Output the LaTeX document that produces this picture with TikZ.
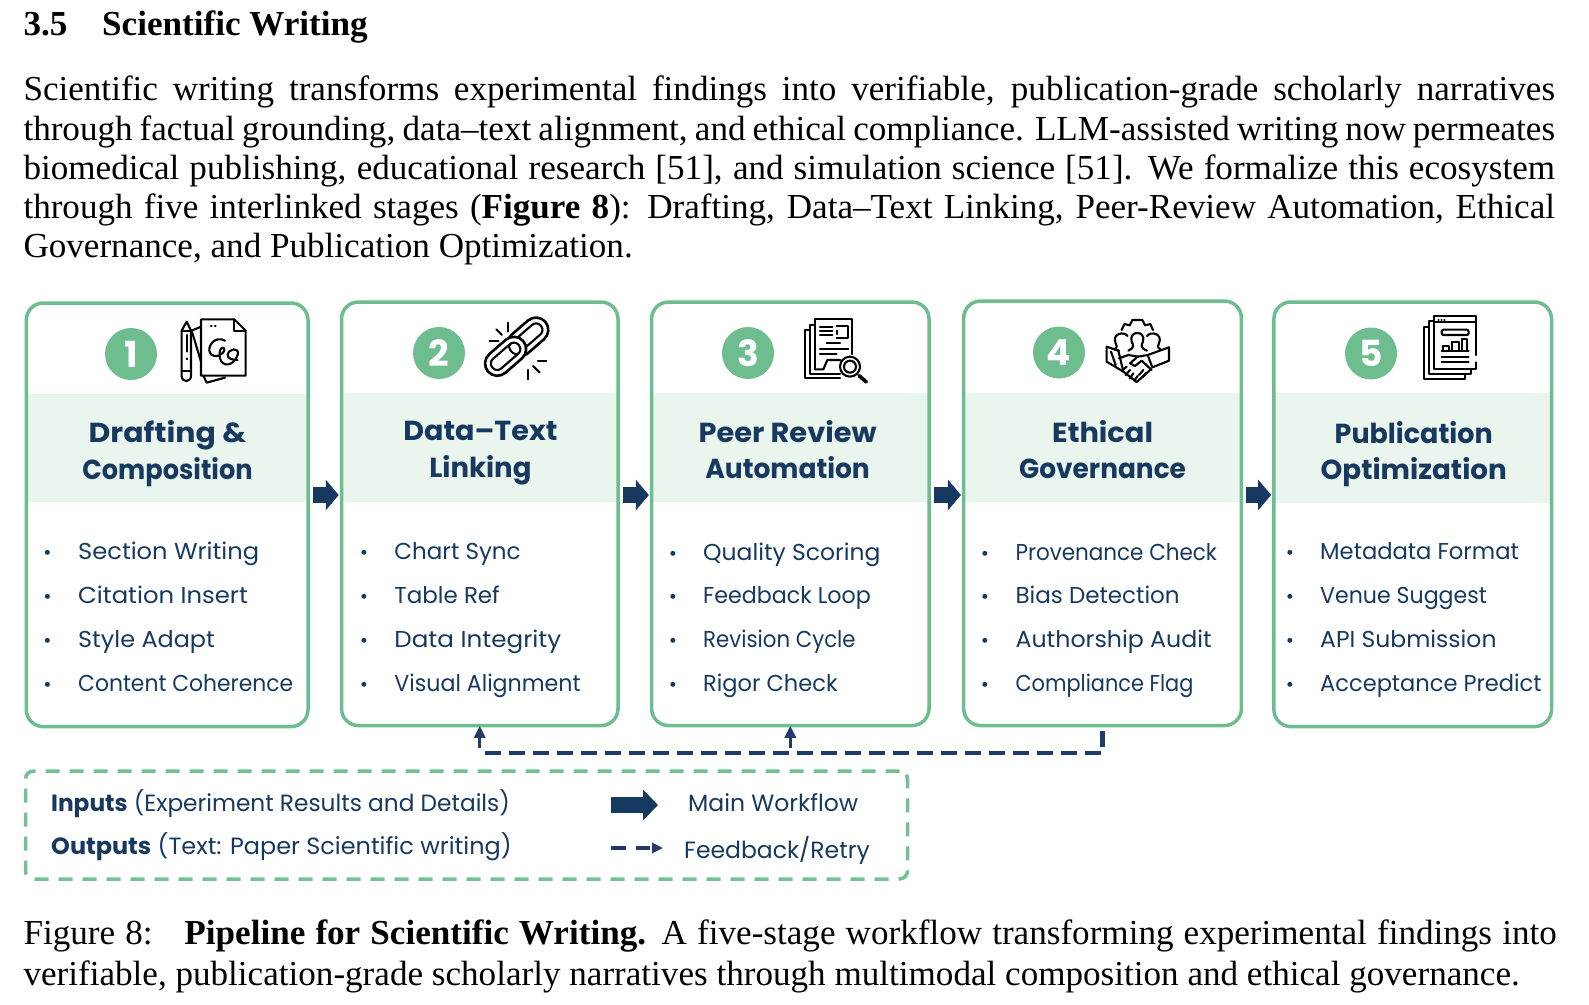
\documentclass[tikz,border=0pt]{standalone}
\usepackage{fontspec}
\usepackage{graphicx}
\usetikzlibrary{arrows.meta,calc}
\setmainfont{Liberation Serif}
\newfontfamily\cf{Poppins}
\definecolor{grn}{HTML}{6DBD8F}
\definecolor{lgrn}{HTML}{EAF5EE}
\definecolor{navy}{HTML}{17395F}
\definecolor{fbnavy}{HTML}{1F3A6B}
\tikzset{
  x=1pt,y=-1pt,
  stagebox/.style={draw=grn,line width=3.5pt,rounded corners=17pt,inner sep=0pt,minimum width=#1},
  band/.style={fill=lgrn,draw=none},
  numdot/.style={circle,fill=grn,text=white,inner sep=0pt,minimum size=52pt,font=\cf\bfseries\fontsize{36}{36}\selectfont},
  title/.style={align=center,text=navy,inner sep=0pt,font=\cf\bfseries\fontsize{27.5}{36.5}\selectfont},
  item/.style={anchor=base west,text=navy,inner sep=0pt,font=\cf\fontsize{23}{26}\selectfont},
  dotitem/.style={anchor=base,text=navy,inner sep=0pt,font=\cf\fontsize{20}{20}\selectfont},
  flow/.style={draw=navy,line width=16pt,-{Triangle[length=13pt,width=30pt]}},
  ico/.style={draw=black,line width=2.1pt,line join=round,line cap=round,fill=none},
  fbline/.style={draw=fbnavy,line width=4.2pt,dash pattern=on 16pt off 8pt},
  fbhead/.style={draw=fbnavy,line width=3.3pt,-{Triangle[length=12pt,width=11pt]}},
  legendbox/.style={draw=grn!95!white,line width=3.5pt,dash pattern=on 14pt off 10pt,rounded corners=8pt,inner sep=0pt},
  ltext/.style={anchor=base west,text=navy,inner sep=0pt,font=\cf\fontsize{23.5}{26}\selectfont},
  para/.style={anchor=north west,inner sep=0pt,text width=1531.5pt,font=\fontsize{35.1}{39.3}\selectfont,align=justify},
  icoscope/.style={shift={#1},scale=0.3333},
}
\newcommand{\stage}[7]{% id, left, right, top, bottom, bandtop, bandbot
  \fill[band] (#2,#6) rectangle (#3,#7);
  \node[stagebox=#3pt-#2pt,minimum height=#5pt-#4pt] (b#1) at ({(#2+#3)/2},{(#4+#5)/2}) {};
}
\newcommand{\ttl}[4]{\strut\scalebox{#3}[1]{#1}\\\strut\scalebox{#4}[1]{#2}}
\begin{document}
\begin{tikzpicture}
\useasboundingbox (0,0) rectangle (1589,1004);
\fill[white] (0,0) rectangle (1589,1004);

% heading and paragraph
\node[anchor=base west,inner sep=0pt,font=\bfseries\fontsize{35.1}{40}\selectfont] (hnum) at (23.3,35) {3.5};
\node[anchor=base west,inner sep=0pt,font=\bfseries\fontsize{35.1}{40}\selectfont] (htitle) at (102,35) {Scientific Writing};
\node[para] (body) at (23.3,73) {\strut Scientific writing transforms experimental findings into verifiable, publication-grade scholarly narratives\linebreak
through factual grounding, data–text alignment, and ethical compliance. LLM-assisted writing now permeates\linebreak
biomedical publishing, educational research [51], and simulation science [51]. We formalize this ecosystem\linebreak
through five interlinked stages (\textbf{Figure 8}): Drafting, Data–Text Linking, Peer-Review Automation, Ethical\linebreak
Governance, and Publication Optimization.\par};

% stages
\stage{1}{26.3}{308}{303}{726.6}{394}{502}
\stage{2}{341.5}{618}{302}{725.6}{393}{502}
\stage{3}{651.6}{929}{302}{725.6}{393}{502}
\stage{4}{963.7}{1241.4}{301}{725.6}{393}{502}
\stage{5}{1273.9}{1551.5}{302}{726.6}{393}{503}

\node[numdot] (n1) at (131,354) {1};
\node[numdot] (n2) at (439,353) {2};
\node[numdot] (n3) at (748,353) {3};
\node[numdot] (n4) at (1059,352.5) {4};
\node[numdot] (n5) at (1371,353.5) {5};

\node[title] (t1) at (167.5,453.5) {\ttl{Drafting \&}{Composition}{1.09}{0.933}};
\node[title] (t2) at (480.4,451.5) {\ttl{Data–Text}{Linking}{1.04}{1.0}};
\node[title] (t3) at (787.6,453) {\ttl{Peer Review}{Automation}{1.05}{0.964}};
\node[title] (t4) at (1102.6,453) {\ttl{Ethical}{Governance}{1.05}{0.96}};
\node[title] (t5) at (1413.7,454) {\ttl{Publication}{Optimization}{0.98}{1.01}};

% lists
\foreach \t/\s [count=\i] in {Section Writing/1.05,Citation Insert/1.057,Style Adapt/1.04,Content Coherence/0.95}{
  \node[dotitem] (d1-\i) at (47.6,{559.5+43.9*(\i-1)}) {•};
  \node[item] (i1-\i) at (78,{559.5+43.9*(\i-1)}) {\scalebox{\s}[1]{\t}};}
\foreach \t/\s [count=\i] in {Chart Sync/1.0,Table Ref/1.0,Data Integrity/1.07,Visual Alignment/0.963}{
  \node[dotitem] (d2-\i) at (364,{559.5+43.9*(\i-1)}) {•};
  \node[item] (i2-\i) at (394.2,{559.5+43.9*(\i-1)}) {\scalebox{\s}[1]{\t}};}
\foreach \t/\s [count=\i] in {Quality Scoring/1.02,Feedback Loop/0.965,Revision Cycle/0.926,Rigor Check/0.98}{
  \node[dotitem] (d3-\i) at (673,{560+43.9*(\i-1)}) {•};
  \node[item] (i3-\i) at (703,{560+43.9*(\i-1)}) {\scalebox{\s}[1]{\t}};}
\foreach \t/\s [count=\i] in {Provenance Check/0.934,Bias Detection/1.0,Authorship Audit/1.03,Compliance Flag/0.907}{
  \node[dotitem] (d4-\i) at (985,{560+43.9*(\i-1)}) {•};
  \node[item] (i4-\i) at (1015.4,{560+43.9*(\i-1)}) {\scalebox{\s}[1]{\t}};}
\foreach \t/\s [count=\i] in {Metadata Format/0.985,Venue Suggest/0.96,API Submission/1.02,Acceptance Predict/0.98}{
  \node[dotitem] (d5-\i) at (1290,{559.5+43.9*(\i-1)}) {•};
  \node[item] (i5-\i) at (1320,{559.5+43.9*(\i-1)}) {\scalebox{\s}[1]{\t}};}

% main flow arrows
\coordinate (fy) at (0,495);
\foreach \a/\b in {1/2,2/3,3/4,4/5}{
  \draw[flow,shorten <=3pt,shorten >=1pt] (b\a.east |- fy) -- (b\b.west |- fy);}

% feedback
\coordinate (lo) at (0,753.3);
\draw[fbline] ([xshift=5pt]b2.south |- lo) -- (b4.south |- lo) -- ([yshift=-3.4pt]b4.south);
\draw[fbhead] ($(b2.south |- lo)+(0,-5)$) -- ([yshift=1.6pt]b2.south);
\draw[fbhead] ($(b3.south |- lo)+(0,-5)$) -- ([yshift=1.6pt]b3.south);

% legend
\node[legendbox,minimum width=882pt,minimum height=108pt] (leg) at (466.5,825) {};
\node[ltext] (inp) at (51,811) {\scalebox{0.99}[1]{\textbf{Inputs} (Experiment Results and Details)}};
\node[ltext] (outp) at (51,854) {\scalebox{1.018}[1]{\textbf{Outputs} (Text: Paper Scientific writing)}};
\coordinate (m1) at (611,805); \coordinate (m2) at (658,805);
\draw[flow,-{Triangle[length=15pt,width=30pt]}] (m1) -- (m2);
\node[ltext] (mw) at (688,811.5) {Main Workflow};
\coordinate (r1) at (611,848); \coordinate (r2) at (663,848);
\draw[draw=fbnavy,line width=3.4pt,dash pattern=on 14.5pt off 10pt,-{Triangle[length=11pt,width=10pt]}] (r1) -- (r2);
\node[ltext] (fr) at (684,858) {Feedback/Retry};

% caption
\node[para,text width=1533.3pt,font=\fontsize{35.1}{40.5}\selectfont] (cap) at (23.3,916) {\strut Figure 8:\hspace{0.5em} \textbf{Pipeline for Scientific Writing.} A five-stage workflow transforming experimental findings into\linebreak
verifiable, publication-grade scholarly narratives through multimodal composition and ethical governance.\par};

% icon 1: pencil and pages
\begin{scope}[icoscope={(175,310)}]
  \draw[ico] (35,35) -- (20,62) -- (20,198) .. controls (20,218) and (48,218) .. (48,198) -- (48,62) -- cycle;
  \draw[ico] (20,62) -- (48,62);
  \draw[ico] (20,182) -- (48,182);
  \draw[ico] (35,75) -- (35,125);
  \draw[ico] (35,145) -- (35,148);
  \draw[ico] (50,62) -- (78,50);
  \draw[ico] (50,62) -- (78,155);
  \draw[ico] (85,197) -- (95,218) -- (150,203);
  \draw[ico] (78,28) -- (178,28) -- (212,62) -- (212,197) -- (78,197) -- cycle;
  \draw[ico] (178,28) -- (178,62) -- (212,62);
  \draw[ico] (108,47) -- (110,47);
  \draw[ico] (120,47) -- (122,47);
  \draw[ico] (150,92) .. controls (120,75) and (95,110) .. (105,128) .. controls (115,148) and (148,135) .. (148,118) .. controls (148,105) and (128,115) .. (135,145) .. controls (142,172) and (175,170) .. (188,135) .. controls (195,110) and (160,115) .. (158,135) .. controls (158,145) and (170,150) .. (188,150);
\end{scope}

% icon 2: chain
\begin{scope}[icoscope={(478,310)}]
  \begin{scope}[shift={(116,110)},rotate=41]
    \draw[ico,line width=2.6pt,rounded corners=12.5pt] (-26,-37) rectangle (114,37);
    \draw[ico,rounded corners=6pt] (-8,-19) rectangle (96,19);
    \draw[ico,line width=2.6pt,fill=white,rounded corners=12.5pt] (-114,-37) rectangle (26,37);
    \draw[ico,fill=white,rounded corners=6pt] (-96,-19) rectangle (8,19);
    \draw[ico] (-8,-19) .. controls (-26,-19) and (-26,19) .. (-8,19);
  \end{scope}
  \draw[ico] (35,93) -- (62,93);
  \draw[ico] (55,58) -- (72,75);
  \draw[ico] (90,38) -- (90,65);
  \draw[ico] (180,152) -- (205,152);
  \draw[ico] (165,168) -- (185,187);
  \draw[ico] (150,180) -- (150,208);
\end{scope}

% icon 3: documents and magnifier
\begin{scope}[icoscope={(795,310)}]
  \draw[ico] (45,60) -- (30,60) -- (30,205) -- (135,205);
  \draw[ico] (60,45) -- (45,45) -- (45,192) -- (135,192);
  \draw[ico] (60,178) -- (60,28) -- (170,28) -- (170,132);
  \draw[ico] (60,178) -- (85,178) -- (97,150) -- (136,150);
  \draw[ico] (75,50) -- (112,50); \draw[ico] (75,62) -- (112,62); \draw[ico] (75,75) -- (112,75);
  \draw[ico] (125,47) -- (160,47) -- (160,85) -- (125,85);
  \draw[ico] (125,62) -- (125,72);
  \draw[ico] (95,100) -- (135,100);
  \draw[ico] (75,118) -- (160,118);
  \draw[ico] (75,133) -- (125,133);
  \draw[ico] (165,170) circle (30);
  \draw[ico] (165,170) circle (18);
  \draw[ico,line width=3.6pt] (192,197) -- (214,216);
\end{scope}

% icon 4: gear, people, handshake
\begin{scope}[icoscope={(1095,310)}]
  \draw[ico] (80,60) -- (88,42) -- (104,46) -- (112,30) -- (142,30) -- (150,46) -- (166,42) -- (174,60);
  \draw[ico] (100,122) .. controls (118,114) and (116,106) .. (110,95) .. controls (100,60) and (154,60) .. (144,95) .. controls (138,106) and (136,114) .. (156,122);
  \draw[ico] (58,118) .. controls (68,112) and (66,106) .. (62,100) .. controls (50,72) and (85,62) .. (98,78);
  \draw[ico] (196,118) .. controls (186,112) and (188,106) .. (192,100) .. controls (204,72) and (169,62) .. (156,78);
  \draw[ico] (35,110) -- (35,155) -- (85,185) -- (70,122) -- cycle;
  \draw[ico] (58,118) -- (72,122);
  \draw[ico] (48,125) -- (62,165);
  \draw[ico] (72,145) -- (100,135) -- (130,140);
  \draw[ico] (222,112) -- (222,152) -- (172,172) -- (158,135) -- cycle;
  \draw[ico] (158,135) -- (128,140) -- (105,160) -- (120,168) -- (140,152) -- (170,180);
  \draw[ico] (85,185) -- (125,216) -- (168,178);
  \draw[ico] (95,170) -- (80,182);
  \draw[ico] (105,180) -- (92,195);
  \draw[ico] (115,190) -- (104,206);
  \draw[ico] (128,198) -- (118,212);
  \draw[ico] (145,180) -- (132,195);
  \draw[ico] (155,188) -- (142,202);
\end{scope}

% icon 5: layered report
\begin{scope}[icoscope={(1410,305)}]
  \draw[ico] (57,65) -- (42,65) -- (42,222) -- (165,222) -- (165,210);
  \draw[ico] (72,48) -- (57,48) -- (57,208) -- (182,208) -- (182,192);
  \draw[ico] (198,150) -- (198,32) -- (72,32) -- (72,192) -- (198,192) -- (198,172);
  \draw[ico] (72,52) -- (198,52);
  \draw[ico] (85,44) -- (86,44); \draw[ico] (94,44) -- (95,44); \draw[ico] (103,44) -- (104,44);
  \draw[ico,rounded corners=2pt] (95,74) rectangle (176,90);
  \draw[ico] (100,138) -- (100,124) -- (118,124) -- (118,138);
  \draw[ico] (127,138) -- (127,110) -- (147,110) -- (147,138);
  \draw[ico] (155,138) -- (155,101) -- (170,101) -- (170,138);
  \draw[ico] (95,138) -- (176,138);
  \draw[ico] (95,155) -- (176,155);
  \draw[ico] (95,171) -- (176,171);
\end{scope}
\end{tikzpicture}
\end{document}
